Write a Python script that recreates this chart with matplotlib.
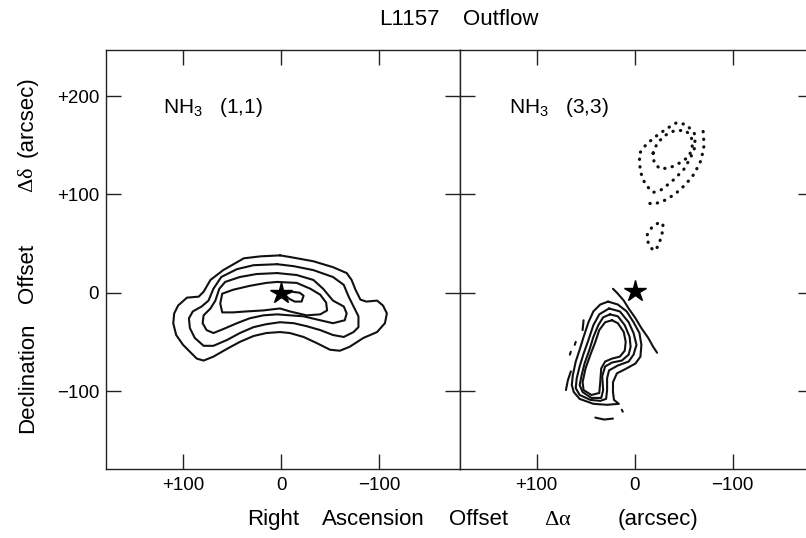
import matplotlib
matplotlib.use("Agg")
import matplotlib.pyplot as plt

plt.rcParams['font.family'] = ['Liberation Sans', 'DejaVu Sans']
plt.rcParams['mathtext.fontset'] = 'custom'
plt.rcParams['mathtext.rm'] = 'Liberation Serif'
plt.rcParams['mathtext.it'] = 'Liberation Serif:italic'
plt.rcParams['mathtext.sf'] = 'Liberation Sans'

# ---------------- data (RA offset, Dec offset) in arcsec ----------------
x_ticks = [100, 0, -100]
x_ticklabels = ['+100', '0', '\u2212100']
y_ticks = [200, 100, 0, -100]
y_ticklabels = ['+200', '+100', '0', '\u2212100']

title_words = ['L1157', 'Outflow']
xlabel_words = ['Right', 'Ascension', 'Offset', r'$\mathrm{\Delta\alpha}$', '(arcsec)']
ylabel_words = ['Declination', 'Offset', r'$\mathrm{\Delta\delta}$', '(arcsec)']
panel_titles = [r'$\mathsf{NH_3}$   (1,1)', r'$\mathsf{NH_3}$   (3,3)']

star_nh3_11 = (0, 0)
star_nh3_33 = (0, 2)

# NH3 (1,1): closed contours, outer -> inner
nh3_11_c1 = [(1, 38), (-11, 36), (-33, 32), (-53, 26), (-67, 20), (-72, 13), (-76, 3),
             (-81, -7), (-87, -9), (-98, -8), (-104, -13), (-108, -21), (-106, -31),
             (-98, -40), (-84, -46), (-70, -55), (-60, -59), (-50, -58), (-36, -51),
             (-23, -45), (-9, -41), (1, -40), (15, -41), (28, -44), (42, -50), (55, -57),
             (69, -65), (79, -69), (86, -67), (93, -60), (100, -53), (107, -43),
             (110, -31), (109, -21), (105, -13), (96, -5), (84, -4), (79, 1), (72, 13),
             (59, 23), (38, 35), (21, 37)]
nh3_11_c2 = [(4, 29), (-13, 27), (-33, 23), (-53, 16), (-64, 8), (-69, -4), (-74, -14),
             (-79, -24), (-79, -35), (-74, -40), (-64, -45), (-53, -43), (-40, -38),
             (-26, -34), (-13, -31), (1, -30), (15, -32), (28, -35), (42, -41), (55, -48),
             (69, -54), (79, -54), (88, -46), (93, -36), (94, -26), (90, -19), (81, -14),
             (74, -8), (69, 4), (61, 16), (45, 24), (28, 28)]
nh3_11_c3 = [(4, 20), (-16, 18), (-33, 13), (-43, 4), (-53, -8), (-64, -14), (-67, -21),
             (-65, -28), (-53, -31), (-40, -28), (-23, -24), (-9, -23), (4, -22), (18, -23),
             (32, -26), (45, -31), (59, -37), (69, -41), (76, -38), (80, -31), (79, -23),
             (72, -16), (67, -8), (63, 4), (57, 11), (42, 16), (25, 19)]
nh3_11_c4 = [(4, 11), (-16, 10), (-30, 4), (-40, -2), (-46, -10), (-47, -18), (-40, -22),
             (-26, -23), (-9, -19), (1, -16), (18, -18), (35, -19), (49, -20), (60, -20),
             (62, -11), (60, -1), (49, 3), (32, 7), (15, 10)]
nh3_11_c5 = [(-4, -2), (-11, 1), (-19, 0), (-23, -3), (-21, -9), (-14, -9), (-8, -6)]

# NH3 (3,3): solid (positive) contours
nh3_33_s1 = [(27, -9), (17, -12), (8, -19), (1, -30), (-5, -41), (-7, -53), (-6, -65),
             (-1, -72), (10, -78), (18, -82), (22, -91), (22, -101), (21, -109), (16, -113),
             (28, -114), (42, -113), (56, -108), (62, -101), (64, -94), (63, -84), (60, -70),
             (56, -58), (52, -45), (47, -30), (42, -19), (35, -12)]
nh3_33_s2 = [(26, -16), (15, -19), (6, -30), (1, -41), (-2, -53), (1, -63), (6, -70),
             (17, -74), (26, -79), (28, -87), (28, -99), (29, -108), (35, -110), (45, -109),
             (56, -104), (60, -97), (59, -87), (56, -75), (52, -62), (47, -48), (42, -33),
             (36, -22)]
nh3_33_s3 = [(25, -22), (17, -24), (10, -33), (5, -45), (4, -55), (6, -63), (13, -69),
             (23, -71), (30, -75), (33, -85), (32, -99), (34, -107), (44, -107), (53, -101),
             (56, -94), (54, -84), (51, -72), (46, -58), (42, -45), (37, -33), (32, -25)]
nh3_33_s4 = [(23, -28), (17, -31), (11, -40), (9, -50), (10, -59), (15, -65), (23, -67),
             (30, -70), (34, -77), (35, -91), (36, -102), (44, -104), (52, -99), (53, -91),
             (50, -77), (45, -63), (40, -50), (36, -38), (30, -30)]
nh3_33_arc = [(22, 4), (17, -1), (11, -8), (6, -16), (-1, -26), (-7, -36), (-14, -46),
              (-19, -55), (-23, -61)]
nh3_33_frag1 = [(40, -127), (31, -129), (22, -128)]
nh3_33_frag2 = [(52, -28), (53, -38)]
nh3_33_frag3 = [(60, -50), (61, -53)]
nh3_33_frag4 = [(65, -60), (66, -63)]
nh3_33_frag5 = [(70, -99), (68, -89), (65, -80)]
nh3_33_frag6 = [(13, -119), (12, -121)]

# NH3 (3,3): dotted (negative) contours
nh3_33_d1 = [(-70, 164), (-71, 150), (-68, 135), (-61, 121), (-52, 110), (-41, 100),
             (-29, 93), (-19, 90), (-11, 92)]
nh3_33_d2 = [(-6, 143), (-12, 151), (-23, 160), (-33, 167), (-43, 173), (-53, 171),
             (-61, 162), (-62, 149), (-57, 137), (-50, 125), (-40, 115), (-28, 105),
             (-19, 102), (-11, 110), (-6, 123), (-5, 135)]
nh3_33_d3 = [(-19, 142), (-23, 152), (-31, 160), (-41, 165), (-52, 165), (-58, 159),
             (-59, 147), (-55, 138), (-46, 132), (-36, 127), (-26, 126), (-20, 132)]
nh3_33_d4 = [(-23, 46), (-25, 50), (-28, 59), (-29, 69), (-26, 72), (-18, 67), (-13, 59),
             (-14, 50), (-19, 43), (-21, 39)]

# ---------------- figure ----------------
W, H = 806, 538
fig = plt.figure(figsize=(W / 100, H / 100), dpi=100)


def px_axes(x0, y0, x1, y1):
    return [x0 / W, 1 - y1 / H, (x1 - x0) / W, (y1 - y0) / H]


ax1 = fig.add_axes(px_axes(106, 50, 459.5, 469))
ax2 = fig.add_axes(px_axes(459.5, 50, 813, 469))

ink = '#111111'
solid_kw = dict(color=ink, lw=1.5, solid_joinstyle='round', solid_capstyle='round')
dot_kw = dict(color=ink, lw=2.3, linestyle=(0, (0.1, 2.3)), dash_capstyle='round')


def draw(ax, pts, closed=True, **kw):
    xs = [p[0] for p in pts]
    ys = [p[1] for p in pts]
    if closed:
        xs = xs + xs[:1]
        ys = ys + ys[:1]
    ax.plot(xs, ys, **kw)


for c in [nh3_11_c1, nh3_11_c2, nh3_11_c3, nh3_11_c4, nh3_11_c5]:
    draw(ax1, c, True, **solid_kw)

for c in [nh3_33_s1, nh3_33_s2, nh3_33_s3, nh3_33_s4]:
    draw(ax2, c, True, **solid_kw)
for c in [nh3_33_arc, nh3_33_frag1, nh3_33_frag2, nh3_33_frag3, nh3_33_frag4,
          nh3_33_frag5, nh3_33_frag6]:
    draw(ax2, c, False, **solid_kw)
for c in [nh3_33_d2, nh3_33_d3]:
    draw(ax2, c, True, **dot_kw)
for c in [nh3_33_d1, nh3_33_d4]:
    draw(ax2, c, False, **dot_kw)

ax1.plot([star_nh3_11[0]], [star_nh3_11[1]], marker='*', ms=16, color='black', mec='black')
ax2.plot([star_nh3_33[0]], [star_nh3_33[1]], marker='*', ms=16, color='black', mec='black')

for ax in (ax1, ax2):
    ax.set_xlim(178.6, -182.1)
    ax.set_ylim(-179.3, 246.9)
    ax.set_xticks(x_ticks)
    ax.set_xticklabels(x_ticklabels)
    ax.set_yticks(y_ticks)
    ax.set_yticklabels(y_ticklabels)
    ax.tick_params(direction='in', length=10.8, width=1.0, color='#222222',
                   top=True, right=True, labelsize=13.5, pad=6)
    for s in ax.spines.values():
        s.set_linewidth(1.0)
        s.set_color('#222222')
ax1.tick_params(axis='y', pad=5)
ax2.tick_params(labelleft=False)

ax1.text(120, 183, panel_titles[0], fontsize=15, ha='left', va='baseline')
ax2.text(128, 183, panel_titles[1], fontsize=15, ha='left', va='baseline')

# title, placed word by word (pixel centres)
for word, xc in zip(title_words, [409.5, 500.5]):
    fig.text(xc / W, 1 - 25 / H, word, fontsize=16, ha='center', va='baseline')

# x label, word by word
for word, xc in zip(xlabel_words, [273, 373.5, 478.5, 557.5, 658]):
    fig.text(xc / W, 1 - 525 / H, word, fontsize=16, ha='center', va='baseline')

# y label, word by word (rotated)
for word, yc in zip(ylabel_words, [378, 273, 180, 117]):
    fig.text(33 / W, 1 - yc / H, word, fontsize=16, ha='center', va='baseline',
             rotation=90, rotation_mode='anchor')

fig.savefig('out.png', dpi=100)
